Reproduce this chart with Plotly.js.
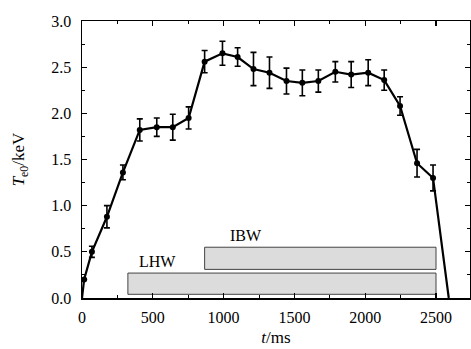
<!DOCTYPE html>
<html>
<head>
<meta charset="utf-8">
<script src="https://cdn.plot.ly/plotly-3.0.1.min.js"></script>
<style>html,body{margin:0;padding:0;background:#fff;}#chart{width:471px;height:349px;}</style>
</head>
<body>
<div id="chart"></div>
<script>
// Data
var timeMs = [0, 15, 70, 176, 289, 408, 528, 641, 753, 866, 992, 1099, 1211, 1324, 1444, 1556, 1669, 1789, 1901, 2021, 2134, 2246, 2366, 2479, 2590];
var teKeV  = [0.0, 0.20, 0.50, 0.88, 1.36, 1.82, 1.85, 1.85, 1.95, 2.56, 2.65, 2.61, 2.48, 2.44, 2.35, 2.33, 2.35, 2.45, 2.42, 2.44, 2.36, 2.08, 1.46, 1.30, 0.0];
var teErr  = [0, 0, 0.06, 0.12, 0.08, 0.12, 0.10, 0.14, 0.12, 0.12, 0.13, 0.10, 0.18, 0.17, 0.14, 0.14, 0.12, 0.11, 0.14, 0.14, 0.11, 0.10, 0.15, 0.14, 0];
var showMarker = [false, true, true, true, true, true, true, true, true, true, true, true, true, true, true, true, true, true, true, true, true, true, true, true, false];

// Heating windows
var heatNames = ["LHW", "IBW"];
var heatStart = [324, 866];
var heatEnd   = [2500, 2500];
var heatLow   = [0.04, 0.31];
var heatHigh  = [0.27, 0.55];
var labelX    = [535, 1160];
var labelY    = [0.39, 0.68];

var xTicks = [0, 500, 1000, 1500, 2000, 2500];
var yTicks = [0.0, 0.5, 1.0, 1.5, 2.0, 2.5, 3.0];

var serif = "Liberation Serif, Times New Roman, serif";

var shapes = [];
var annotations = [];
for (var i = 0; i < heatNames.length; i++) {
  shapes.push({type: "rect", xref: "x", yref: "y", x0: heatStart[i], x1: heatEnd[i], y0: heatLow[i], y1: heatHigh[i],
    fillcolor: "#dcdcdc", line: {color: "#444", width: 1}, layer: "below"});
  annotations.push({x: labelX[i], y: labelY[i], xref: "x", yref: "y", text: heatNames[i], showarrow: false,
    font: {family: serif, size: 16, color: "#000"}});
}

var lineTrace = {
  x: timeMs, y: teKeV, type: "scatter", mode: "lines",
  line: {color: "#000", width: 2.2}, hoverinfo: "skip", showlegend: false
};
var mx = [], my = [], me = [];
for (var j = 0; j < timeMs.length; j++) {
  if (showMarker[j]) { mx.push(timeMs[j]); my.push(teKeV[j]); me.push(teErr[j]); }
}
var pointTrace = {
  x: mx, y: my, type: "scatter", mode: "markers",
  marker: {color: "#000", size: 6, symbol: "circle"},
  error_y: {type: "data", array: me, visible: true, color: "#000", thickness: 1.6, width: 3},
  showlegend: false
};

var axisCommon = {
  showline: true, linecolor: "#000", linewidth: 1.5, mirror: "ticks",
  ticks: "inside", ticklen: 5, tickwidth: 1.2, tickcolor: "#000",
  showgrid: false, zeroline: false,
  tickfont: {family: serif, size: 16, color: "#000"}
};

var layout = {
  width: 471, height: 349,
  margin: {l: 82, r: 1, t: 21, b: 51},
  paper_bgcolor: "#fff", plot_bgcolor: "#fff",
  showlegend: false,
  xaxis: Object.assign({}, axisCommon, {
    range: [0, 2740], tickvals: xTicks, ticktext: xTicks.map(String),
    ticklabelstandoff: 4,
    minor: {dtick: 250, ticks: "inside", ticklen: 3, tickcolor: "#000", tickwidth: 1},
    title: {text: "<i>t</i>/ms", font: {family: serif, size: 17, color: "#000"}, standoff: 6}
  }),
  yaxis: Object.assign({}, axisCommon, {
    range: [0, 3.0], tickvals: yTicks, ticktext: yTicks.map(function(v){return v.toFixed(1);}),
    ticklabelstandoff: 6,
    minor: {dtick: 0.25, ticks: "inside", ticklen: 3, tickcolor: "#000", tickwidth: 1},
    title: {text: "<i>T</i><sub>e0</sub>/keV", font: {family: serif, size: 17, color: "#000"}, standoff: 22}
  }),
  shapes: shapes,
  annotations: annotations
};

Plotly.newPlot("chart", [lineTrace, pointTrace], layout, {staticPlot: true, displayModeBar: false});
</script>
</body>
</html>
